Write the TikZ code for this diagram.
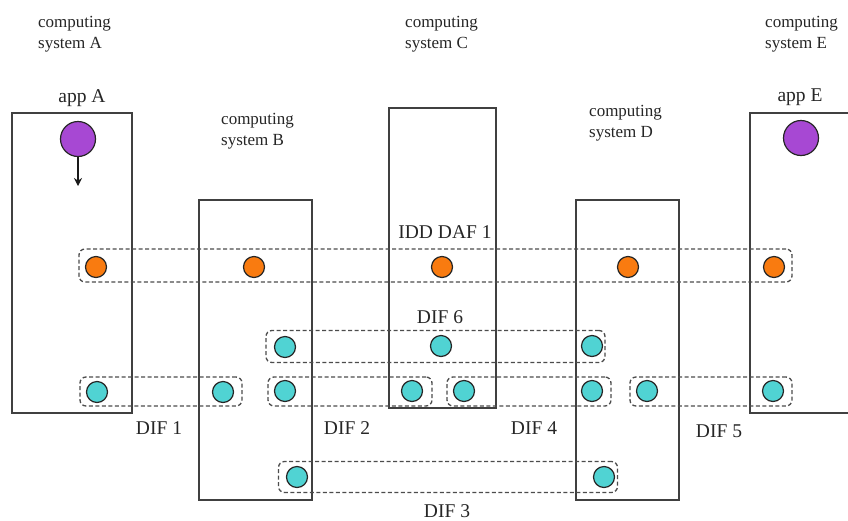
\documentclass[tikz,border=0pt]{standalone}
\usepackage{fontspec}
\setmainfont{Liberation Serif}
\usetikzlibrary{arrows.meta}
\definecolor{orangeC}{HTML}{F97B10}
\definecolor{cyanC}{HTML}{50D3D3}
\definecolor{purpleC}{HTML}{A748D3}
\begin{document}
\begin{tikzpicture}[x=1pt,y=-1pt,
  sysbox/.style={draw=black!75, line width=1.6pt, rectangle, inner sep=0pt},
  grp/.style={draw=black!70, line width=1.3pt, dash pattern=on 4pt off 2.5pt, rounded corners=6pt, rectangle, inner sep=0pt},
  dot/.style={circle, draw=black!85, line width=1.2pt, minimum size=21pt, inner sep=0pt},
  odot/.style={dot, fill=orangeC},
  cdot/.style={dot, fill=cyanC},
  pdot/.style={dot, fill=purpleC, minimum size=35pt},
  syslbl/.style={font=\fontsize{17}{21}\selectfont, align=left, inner sep=0pt, text=black!85},
  lbl/.style={font=\fontsize{19.5}{23}\selectfont, inner sep=0pt, text=black!85}
]
\clip (0,0) rectangle (848,520);
\fill[white] (0,0) rectangle (848,520);

% computing systems
\node[sysbox, minimum width=120pt, minimum height=300pt] (sysA) at (72,263) {};
\node[sysbox, minimum width=113pt, minimum height=300pt] (sysB) at (255.5,350) {};
\node[sysbox, minimum width=107pt, minimum height=300pt] (sysC) at (442.5,258) {};
\node[sysbox, minimum width=103pt, minimum height=300pt] (sysD) at (627.5,350) {};
\node[sysbox, minimum width=120pt, minimum height=300pt] (sysE) at (810,263) {};

% system labels
\node[syslbl, anchor=west] (lA) at (38,34) {computing\\system A};
\node[syslbl, anchor=west] (lB) at (221,131) {computing\\system B};
\node[syslbl, anchor=west] (lC) at (405,34) {computing\\system C};
\node[syslbl, anchor=west] (lD) at (589,123) {computing\\system D};
\node[syslbl, anchor=west] (lE) at (765,34) {computing\\system E};

\node[lbl] (appAl) at (82,98) {app A};
\node[lbl] (appEl) at (800,97) {app E};

% dashed groups
\node[grp, minimum width=713pt, minimum height=33pt] (daf) at (435.5,265.5) {};
\node[grp, minimum width=339pt, minimum height=32pt] (dif6) at (435.5,346.5) {};
\node[grp, minimum width=162pt, minimum height=29pt] (dif1) at (161,391.5) {};
\node[grp, minimum width=164pt, minimum height=29pt] (dif2) at (350,391.5) {};
\node[grp, minimum width=164pt, minimum height=29pt] (dif4) at (529,391.5) {};
\node[grp, minimum width=162pt, minimum height=29pt] (dif5) at (711,391.5) {};
\node[grp, minimum width=339pt, minimum height=31pt] (dif3) at (448,477) {};

% group labels
\node[lbl] (tdaf) at (445,232) {IDD DAF 1};
\node[lbl] (t6) at (440,317) {DIF 6};
\node[lbl] (t1) at (159,428) {DIF 1};
\node[lbl] (t2) at (347,428) {DIF 2};
\node[lbl] (t4) at (534,428) {DIF 4};
\node[lbl] (t5) at (719,431) {DIF 5};
\node[lbl] (t3) at (447,511) {DIF 3};

% apps
\node[pdot] (appA) at (78,139) {};
\node[pdot] (appE) at (801,138) {};
\coordinate (arrEnd) at (78,186);
\draw[line width=1.5pt, black!90, -{Stealth[length=8pt,width=8pt]}] (appA.south) -- (arrEnd);

% orange DAF members
\node[odot] (o1) at (96,267) {};
\node[odot] (o2) at (254,267) {};
\node[odot] (o3) at (442,267) {};
\node[odot] (o4) at (628,267) {};
\node[odot] (o5) at (774,267) {};

% DIF 6
\node[cdot] (c61) at (285,347) {};
\node[cdot] (c62) at (441,346) {};
\node[cdot] (c63) at (592,346) {};

% DIF 1,2,4,5
\node[cdot] (c11) at (97,392) {};
\node[cdot] (c12) at (223,392) {};
\node[cdot] (c21) at (285,391) {};
\node[cdot] (c22) at (412,391) {};
\node[cdot] (c41) at (464,391) {};
\node[cdot] (c42) at (592,391) {};
\node[cdot] (c51) at (647,391) {};
\node[cdot] (c52) at (773,391) {};

% DIF 3
\node[cdot] (c31) at (297,477) {};
\node[cdot] (c32) at (604,477) {};
\end{tikzpicture}
\end{document}
